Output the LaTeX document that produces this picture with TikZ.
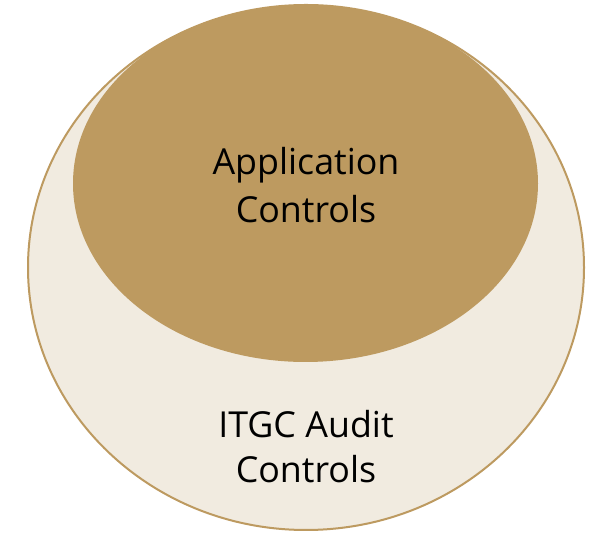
\documentclass[tikz,border=0pt]{standalone}
\usepackage{fontspec}
\setmainfont{Open Sans}
\definecolor{gold}{HTML}{BD9A60}
\definecolor{cream}{HTML}{F1EBE0}
\tikzset{
  outerring/.style={fill=cream, draw=gold, line width=2pt},
  innerdisc/.style={fill=gold},
  caption/.style={anchor=base, font=\fontsize{35.8}{44}\selectfont, text=black, inner sep=0pt}
}
\begin{document}
\begin{tikzpicture}[x=1pt, y=1pt]
  \useasboundingbox (0,0) rectangle (597,534);
  % outer domain: IT general controls
  \draw[outerring] (306,266.5) ellipse [x radius=278, y radius=262.5];
  % inner domain: application controls
  \fill[innerdisc] (305.5,350.5) ellipse [x radius=232.5, y radius=178.5];
  \node[caption] (app1) at (306,359) {Application};
  \node[caption] (app2) at (306,311) {Controls};
  \node[caption] (itgc1) at (306,96) {ITGC Audit};
  \node[caption] (itgc2) at (306,51) {Controls};
\end{tikzpicture}
\end{document}
